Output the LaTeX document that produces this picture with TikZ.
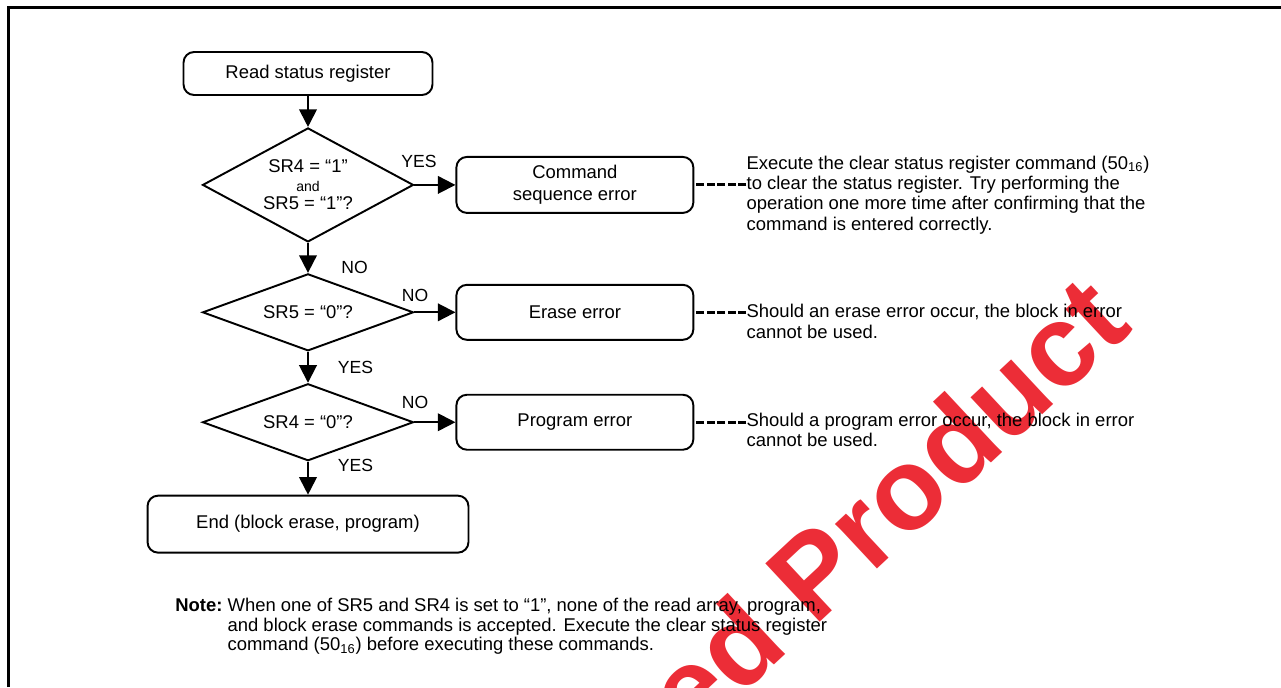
\documentclass[tikz,border=0pt]{standalone}
\usepackage{fontspec}
\setmainfont{Liberation Sans}
\usetikzlibrary{positioning,arrows.meta,shapes.geometric}

\begin{document}
\begin{tikzpicture}[
x=0.02cm, y=-0.02cm,
node distance=0.62cm and 0.82cm,
every node/.style={font=\fontsize{10.5}{12}\selectfont},
process/.style={
draw,
line width=1.1pt,
rounded corners=6pt,
minimum width=4.74cm,
minimum height=1.12cm,
align=center,
inner sep=0pt
},
decision/.style={
draw,
diamond,
line width=1.1pt,
minimum width=4.22cm,
align=center,
inner sep=0pt
},
tag/.style={inner sep=0pt, font=\fontsize{10}{12}\selectfont},
remark/.style={align=left, inner sep=0pt, font=\fontsize{10.5}{11.6}\selectfont},
flow/.style={-{Triangle[length=10pt,width=10pt]}, line width=1.1pt},
hint/.style={line width=1.7pt, dash pattern=on 4.5pt off 1.5pt},
stamp/.style={text=wmred, font=\fontsize{66}{66}\selectfont\bfseries, inner sep=0pt}
]
\definecolor{wmred}{RGB}{236,45,55}

\useasboundingbox (0,0) rectangle (1281,687);

% watermark and frame
\node[stamp, anchor=base west, rotate=43] (wm) at (692,742) {ed Product};
\draw[line width=1.9pt] (8.5,687) -- (8.5,7.5) -- (1281,7.5);

% main flow
\node[process, minimum width=4.98cm, minimum height=0.86cm] (read) at (308,73.5) {Read status register};

\node[decision, minimum height=2.28cm, aspect=1.85, font=\fontsize{10.5}{10.5}\selectfont] (chk1) [below=of read] {SR4 = “1”\\{\fontsize{8}{9}\selectfont and}\\SR5 = “1”?};

\node[decision, minimum height=1.54cm, aspect=2.74] (chk2) [below=0.6cm of chk1] {SR5 = “0”?};

\node[decision, minimum height=1.54cm, aspect=2.74] (chk3) [below=of chk2] {SR4 = “0”?};

\node[process, minimum width=6.42cm, minimum height=1.14cm] (done) [below=0.66cm of chk3] {End (block erase, program)};

% error boxes
\node[process, font=\fontsize{10.5}{12.5}\selectfont] (seqerr) [right=of chk1] {Command\\sequence error};

\node[process, minimum height=1.1cm] (erserr) [right=of chk2] {Erase error};

\node[process, minimum height=1.1cm] (prgerr) [right=of chk3] {Program error};

% remarks
\node[remark] (seqtip) [right=1.04cm of seqerr, yshift=-0.2cm] {Execute the clear status register command (50\textsubscript{16})\\to clear the status register. Try performing the\\operation one more time after confirming that the\\command is entered correctly.};

\node[remark] (erstip) [right=1.04cm of erserr, yshift=-0.18cm] {Should an erase error occur, the block in error\\cannot be used.};

\node[remark] (prgtip) [right=1.04cm of prgerr, yshift=-0.15cm] {Should a program error occur, the block in error\\cannot be used.};

\node[anchor=north west, inner sep=0pt, font=\fontsize{10.5}{11}\selectfont] (memo) at (175,598) {\begin{tabular}{@{}l@{\ }l@{}}
\textbf{Note:} & When one of SR5 and SR4 is set to “1”, none of the read array, program,\\
& and block erase commands is accepted. Execute the clear status register\\
& command (50\textsubscript{16}) before executing these commands.
\end{tabular}};

% branch labels
\node[tag] (yes1) at (419,161.5) {YES};
\node[tag] (no1) at (354.5,267.5) {NO};
\node[tag] (no2) at (415,295) {NO};
\node[tag] (yes2) at (355.5,367.5) {YES};
\node[tag] (no3) at (415,402.5) {NO};
\node[tag] (yes3) at (355.5,465) {YES};

\draw[flow](read)--(chk1);
\draw[flow](chk1)--(seqerr);
\draw[flow](chk1)--(chk2);
\draw[flow](chk2)--(erserr);
\draw[flow](chk2)--(chk3);
\draw[flow](chk3)--(prgerr);
\draw[flow](chk3)--(done);

\draw[hint](seqtip.west |- seqerr.east)--(seqerr.east);
\draw[hint](erstip.west |- erserr.east)--(erserr.east);
\draw[hint](prgtip.west |- prgerr.east)--(prgerr.east);

\end{tikzpicture}
\end{document}
